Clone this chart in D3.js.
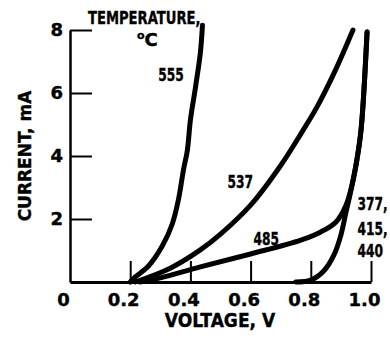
<!DOCTYPE html>
<html>
<head>
<meta charset="utf-8">
<script src="https://cdn.jsdelivr.net/npm/d3@7"></script>
<style>
  body { margin: 0; background: #fff; }
  svg text { font-family: "DejaVu Sans", sans-serif; font-weight: bold; fill: #000; stroke: #000; stroke-width: 0.4px; }
</style>
</head>
<body>
<svg id="chart"></svg>
<script>
// current vs voltage, one curve per temperature (deg C)
const volts555 = [0.2, 0.217, 0.26, 0.307, 0.34, 0.36, 0.377, 0.39, 0.40, 0.417, 0.433, 0.44];
const amps555  = [0, 0.16, 0.5, 1.15, 1.85, 2.6, 3.56, 4.19, 5.14, 6.19, 7.27, 8.15];

const volts537 = [0.217, 0.333, 0.433, 0.5, 0.6, 0.7, 0.77, 0.823, 0.883, 0.94];
const amps537  = [0, 0.44, 1.02, 1.52, 2.44, 3.7, 4.75, 5.6, 6.75, 8.0];

const volts485 = [0.233, 0.3, 0.433, 0.6, 0.767, 0.833, 0.883, 0.917, 0.937, 0.953, 0.967, 0.987];
const amps485  = [0, 0.13, 0.48, 0.89, 1.33, 1.59, 1.9, 2.44, 3.08, 3.87, 4.83, 7.94];

// 377, 415 and 440 share one curve
const volts377 = [0.75, 0.8, 0.843, 0.877, 0.9, 0.917, 0.93, 0.953, 0.967, 0.987];
const amps377  = [0, 0.06, 0.35, 0.86, 1.49, 2.22, 2.76, 3.87, 4.83, 7.94];

const xTicks = [0, 0.2, 0.4, 0.6, 0.8, 1.0];
const yTicks = [2, 4, 6, 8];

const curveLabels = [
  { text: "555", v: 0.293, i: 6.38 },
  { text: "537", v: 0.523, i: 2.98 },
  { text: "485", v: 0.61, i: 1.17 },
  { text: "377,", v: 0.955, i: 2.29 },
  { text: "415,", v: 0.955, i: 1.49 },
  { text: "440", v: 0.955, i: 0.79 }
];

const width = 390, height = 339;

const svg = d3.select("#chart")
  .attr("width", width)
  .attr("height", height);

const x = d3.scaleLinear().domain([0, 1]).range([70, 371]);
const y = d3.scaleLinear().domain([0, 8]).range([282, 30]);

const xAxis = d3.axisBottom(x)
  .tickValues(xTicks)
  .tickSizeInner(-21)
  .tickSizeOuter(0)
  .tickPadding(11)
  .tickFormat(d => d === 0 ? "0" : d.toFixed(1));

const yAxis = d3.axisLeft(y)
  .tickValues(yTicks)
  .tickSizeInner(-22)
  .tickSizeOuter(0)
  .tickPadding(7)
  .tickFormat(d3.format("d"));

const gx = svg.append("g")
  .attr("class", "x-axis")
  .attr("transform", `translate(0, ${y(0)})`)
  .call(xAxis);

const gy = svg.append("g")
  .attr("class", "y-axis")
  .attr("transform", `translate(${x(0)}, 0)`)
  .call(yAxis);

gx.select(".domain").attr("stroke-width", 3);
gy.select(".domain").attr("stroke-width", 2.5);
svg.selectAll(".tick line").attr("stroke-width", 2);
svg.selectAll(".tick text").attr("font-size", 18).attr("fill", "#000");
gx.selectAll(".tick text").attr("x", -7);
gx.selectAll(".tick").filter(d => d === 0).select("line").remove();

// squeezed text, the original lettering is narrow and heavy
function narrowText(px, py, str, size, sx) {
  return svg.append("text")
    .attr("transform", `translate(${px}, ${py}) scale(${sx}, 1)`)
    .attr("font-size", size)
    .text(str);
}

narrowText(220, 327, "VOLTAGE, V", 19, 0.9).attr("text-anchor", "middle");

svg.append("text")
  .attr("transform", "translate(31, 156) rotate(-90)")
  .attr("text-anchor", "middle")
  .attr("font-size", 17)
  .text("CURRENT, mA");

// temperature header
narrowText(88, 24, "TEMPERATURE,", 18, 0.73);

const degC = svg.append("text")
  .attr("x", 137)
  .attr("y", 46)
  .attr("font-size", 18);
degC.append("tspan").attr("font-size", 11).attr("dy", -7).text("o");
degC.append("tspan").attr("dy", 7).text("C");

const line = d3.line()
  .x(d => x(d[0]))
  .y(d => y(d[1]))
  .curve(d3.curveCatmullRom.alpha(0.5));

const series = [
  [volts555, amps555],
  [volts537, amps537],
  [volts485, amps485],
  [volts377, amps377]
];

svg.append("g")
  .selectAll("path")
  .data(series)
  .join("path")
  .attr("d", s => line(d3.zip(s[0], s[1])))
  .attr("fill", "none")
  .attr("stroke", "#000")
  .attr("stroke-width", 5)
  .attr("stroke-linecap", "round")
  .attr("stroke-linejoin", "round");

curveLabels.forEach(d => narrowText(x(d.v), y(d.i), d.text, 18, 0.68));
</script>
</body>
</html>
